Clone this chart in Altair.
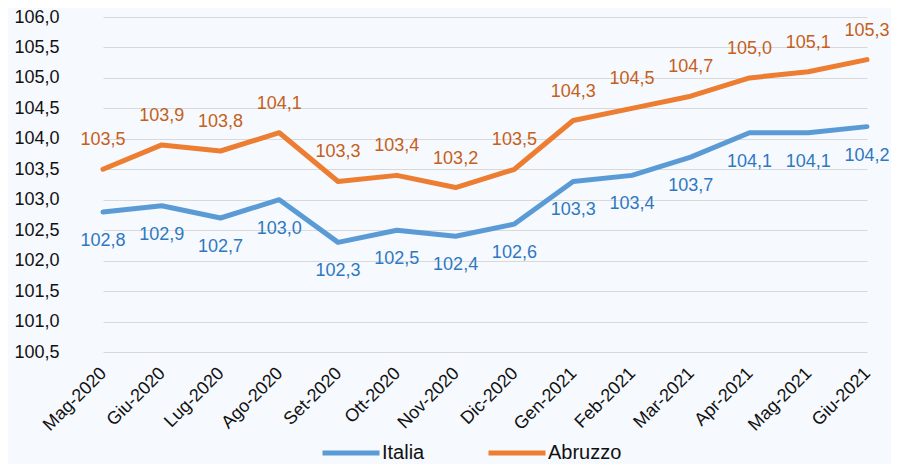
import altair as alt
import pandas as pd

months = ["Mag-2020", "Giu-2020", "Lug-2020", "Ago-2020", "Set-2020", "Ott-2020", "Nov-2020",
          "Dic-2020", "Gen-2021", "Feb-2021", "Mar-2021", "Apr-2021", "Mag-2021", "Giu-2021"]
italia = [102.8, 102.9, 102.7, 103.0, 102.3, 102.5, 102.4, 102.6, 103.3, 103.4, 103.7, 104.1, 104.1, 104.2]
abruzzo = [103.5, 103.9, 103.8, 104.1, 103.3, 103.4, 103.2, 103.5, 104.3, 104.5, 104.7, 105.0, 105.1, 105.3]
series = ["Italia", "Abruzzo"]
y_ticks = [100.5, 101.0, 101.5, 102.0, 102.5, 103.0, 103.5, 104.0, 104.5, 105.0, 105.5, 106.0]

rows = []
for name, vals in zip(series, [italia, abruzzo]):
    for m, v in zip(months, vals):
        rows.append({"mese": m, "valore": v, "serie": name})
df = pd.DataFrame(rows)

FONT = "Liberation Sans"

x_enc = alt.X("mese:N", sort=months, title=None,
              scale=alt.Scale(type="point", range=[29, 793], padding=0),
              axis=alt.Axis(labelAngle=-45, labelFontSize=18, labelFont=FONT, labelColor="#111111",
                            domain=False, ticks=False, grid=False, labelPadding=12, labelOffset=-6))
y_enc = alt.Y("valore:Q", title=None,
              scale=alt.Scale(domain=[100.5, 106.0], nice=False, zero=False),
              axis=alt.Axis(values=y_ticks, labelExpr="replace(format(datum.value, '.1f'), '.', ',')",
                            labelFontSize=18, labelFont=FONT, labelColor="#111111",
                            domain=False, ticks=False, grid=True, gridColor="#D9D9D9",
                            gridWidth=1.2, labelPadding=15))

base = alt.Chart(df).encode(x=x_enc, y=y_enc)

lines = base.mark_line(strokeWidth=5, strokeCap="round", strokeJoin="round").encode(
    color=alt.Color("serie:N", sort=series, title=None,
                    scale=alt.Scale(domain=series, range=["#5B9BD5", "#ED7D31"]),
                    legend=alt.Legend(orient="none", direction="horizontal", legendX=246, legendY=405,
                                      symbolType="stroke", symbolSize=3249, symbolStrokeWidth=5,
                                      labelFontSize=20, labelFont=FONT, labelColor="#111111",
                                      labelOffset=0, columnPadding=53))
)

lab_text = "replace(format(datum.valore, '.1f'), '.', ',')"

lab_it = base.transform_filter(alt.datum.serie == "Italia").transform_calculate(
    lab=lab_text).mark_text(dy=29, fontSize=18, font=FONT, color="#2E78C2").encode(text="lab:N")
lab_ab = base.transform_filter(alt.datum.serie == "Abruzzo").transform_calculate(
    lab=lab_text).mark_text(dy=-29, fontSize=18, font=FONT, color="#C55F1A").encode(text="lab:N")

chart = alt.layer(lines, lab_it, lab_ab).properties(
    width=815, height=335,
    autosize=alt.AutoSizeParams(type="none"),
    padding={"left": 66, "top": 9, "right": 2, "bottom": 114},
    background="#F6F9FE",
).configure_view(stroke=None)

chart.save("out.html", embed_options={"renderer": "svg", "actions": False})
